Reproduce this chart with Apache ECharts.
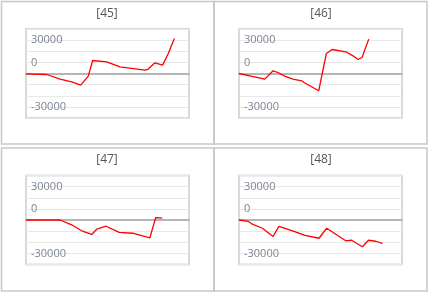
<!DOCTYPE html>
<html><head><meta charset="utf-8">
<script src="https://cdn.jsdelivr.net/npm/echarts@6/dist/echarts.min.js"></script>
<style>html,body{margin:0;padding:0;background:#fff}#c{width:432px;height:295px}</style>
</head><body><div id="c"></div>
<script>
// Panel titles
var panelTitles = ["[45]", "[46]", "[47]", "[48]"];
// Y axis tick labels (value -> text), as shown in the picture
var yTickValues = [30000, 10000, -30000];
var yTickLabels = ["30000", "0", "-30000"];
// Series: x positions (time index, 0..100) and values
var x45 = [0, 12.7, 20.9, 28, 33.6, 38.2, 40.9, 49.5, 57.7, 73, 75, 79.1, 83.8, 87.3, 91];
var v45 = [-300, -900, -5000, -7500, -10400, -2300, 11700, 10500, 6000, 3000, 4000, 9600, 7500, 18000, 31500];
var x46 = [0, 6.6, 15.8, 20.9, 23.9, 28, 33.1, 38.5, 39.9, 48.9, 53.6, 57.1, 65.5, 69.9, 73, 75.5, 79.6];
var v46 = [0, -2070, -5030, 2430, 900, -2340, -5030, -6560, -8090, -15550, 17980, 21570, 19500, 15900, 12580, 14380, 30920];
var x47 = [0, 20.9, 28, 34.2, 40.3, 43.4, 49.1, 57.2, 65.4, 76, 79.6, 83.6];
var v47 = [0, 0, -4300, -9700, -13000, -8300, -5600, -11200, -11900, -16000, 2200, 1600];
var x48 = [0, 5.8, 8.2, 14.4, 20.9, 24.5, 33.7, 40.5, 49.1, 53.8, 65.5, 69.1, 75.7, 79.4, 83.9, 88];
var v48 = [0, -1300, -3800, -7400, -14800, -5800, -10300, -13900, -16400, -7400, -18700, -18200, -24100, -18200, -19100, -21100];

var xs = [x45, x46, x47, x48];
var vs = [v45, v46, v47, v48];

var grids = [
  {left: 26, top: 29, width: 163, height: 89},
  {left: 239, top: 29, width: 163, height: 89},
  {left: 26, top: 175.5, width: 163, height: 89},
  {left: 239, top: 175.5, width: 163, height: 89}
];
var panels = [
  {x: 1.5, y: 1.5, w: 212.5, h: 142.5},
  {x: 214, y: 1.5, w: 213, h: 142.5},
  {x: 1.5, y: 148, w: 212.5, h: 143},
  {x: 214, y: 148, w: 213, h: 143}
];
var titlePos = [[107, 14], [321, 14], [107, 160], [321, 160]];

var option = {
  animation: false,
  grid: grids.map(function (g) {
    return Object.assign({show: true, borderColor: '#d9d9d9', borderWidth: 2, backgroundColor: 'transparent'}, g);
  }),
  xAxis: grids.map(function (g, i) {
    return {
      type: 'value', gridIndex: i, min: 0, max: 100,
      axisLine: {show: true, onZero: true, lineStyle: {color: '#b5b5b5', width: 2}},
      axisTick: {show: false}, axisLabel: {show: false}, splitLine: {show: false}
    };
  }),
  yAxis: grids.map(function (g, i) {
    return {
      type: 'value', gridIndex: i, min: -40000, max: 40000, interval: 10000,
      axisLine: {show: false}, axisTick: {show: false},
      axisLabel: {
        inside: true, margin: 5, color: '#7b8496', fontSize: 11, fontFamily: 'Open Sans',
        formatter: function (val) {
          var k = yTickValues.indexOf(val);
          return k >= 0 ? yTickLabels[k] : '';
        }
      },
      splitLine: {show: true, lineStyle: {color: '#e8e8e8', width: 1}}
    };
  }),
  series: xs.map(function (xarr, i) {
    return {
      type: 'line', xAxisIndex: i, yAxisIndex: i, symbol: 'none',
      lineStyle: {color: '#ff0000', width: 1.3},
      data: xarr.map(function (x, j) { return [x, vs[i][j]]; }),
      z: 3
    };
  }),
  graphic: panels.map(function (p) {
    return {type: 'rect', shape: {x: p.x, y: p.y, width: p.w, height: p.h},
      style: {fill: 'none', stroke: '#c8c8c8', lineWidth: 1.5}, z: 0, silent: true};
  }).concat(panelTitles.map(function (t, i) {
    return {type: 'text', x: titlePos[i][0], y: titlePos[i][1],
      style: {text: t, fill: '#555', fontSize: 12, fontFamily: 'Open Sans', align: 'center', verticalAlign: 'middle'}, z: 5};
  }))
};
var chart = echarts.init(document.getElementById('c'), null, {renderer: 'canvas'});
chart.setOption(option);
</script></body></html>
